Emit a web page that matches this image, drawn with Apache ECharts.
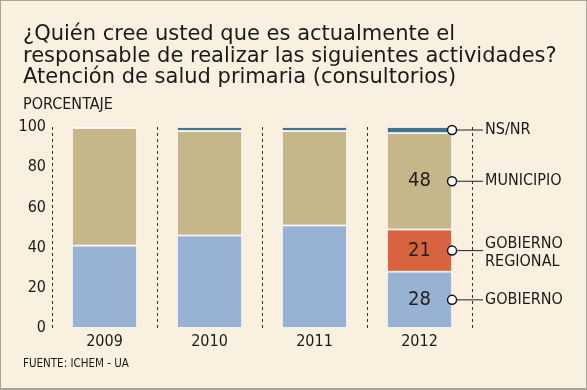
<!DOCTYPE html>
<html>
<head>
<meta charset="utf-8">
<script src="https://cdn.jsdelivr.net/npm/echarts@6/dist/echarts.min.js"></script>
<style>
html,body{margin:0;padding:0;background:#faf0df;}
#wrap{width:587px;height:390px;box-sizing:border-box;border:1px solid #aaa398;border-bottom:2px solid #aaa398;}
#chart{width:585px;height:387px;}
</style>
</head>
<body>
<div id="wrap"><div id="chart"></div></div>
<script>
const categories = ['2009', '2010', '2011', '2012'];
const gobierno = [41, 46, 51, 28];
const gobiernoRegional = [0, 0, 0, 21];
const municipio = [58.5, 52, 47, 48];
const nsnr = [0.5, 2, 2, 3];
const yTicks = [0, 20, 40, 60, 80, 100];
const seriesNames = ['GOBIERNO', 'GOBIERNO\nREGIONAL', 'MUNICIPIO', 'NS/NR'];
const labelledYear = 3;

const FONT = '"DejaVu Sans Condensed", "DejaVu Sans", sans-serif';
const TFONT = '"DejaVu Sans", sans-serif';
const chart = echarts.init(document.getElementById('chart'));
const BAR = 0.62;

function inBarLabel(arr) {
  return arr.map((v, i) => ({
    value: v,
    label: { show: i === labelledYear, position: 'inside', formatter: String(v), fontSize: 20, color: '#1f1f1f', fontFamily: FONT }
  }));
}

const allSeries = [gobierno, gobiernoRegional, municipio, nsnr];
const calloutData = [];
let acc = 0;
allSeries.forEach((arr, k) => {
  const v = arr[labelledYear];
  calloutData.push([labelledYear, acc, acc + v, k]);
  acc += v;
});

const barCommon = { type: 'bar', stack: 'total', barWidth: (BAR * 100) + '%', itemStyle: { borderColor: '#ffffff', borderWidth: 0.8 } };

chart.setOption({
  animation: false,
  backgroundColor: '#faf0df',
  title: [
    { text: '¿Quién cree usted que es actualmente el\nresponsable de realizar las siguientes actividades?\nAtención de salud primaria (consultorios)',
      left: 17, top: 18, textStyle: { fontFamily: TFONT, fontSize: 21, fontWeight: 'normal', color: '#1a1a1a', lineHeight: 21.5 } },
    { text: 'PORCENTAJE', left: 17, top: 91, textStyle: { fontFamily: FONT, fontSize: 16, fontWeight: 'normal', color: '#1a1a1a' } },
    { text: 'FUENTE: ICHEM - UA', left: 17, top: 352, textStyle: { fontFamily: FONT, fontSize: 11.5, fontWeight: 'normal', color: '#1a1a1a' } }
  ],
  grid: { left: 51, right: 114, top: 126, bottom: 60 },
  xAxis: {
    type: 'category', data: categories,
    axisLine: { show: false }, axisTick: { show: false },
    axisLabel: { fontFamily: FONT, fontSize: 16, color: '#1a1a1a', margin: 6 },
    splitLine: { show: true, lineStyle: { type: [3, 3], color: '#333', width: 1 } }
  },
  yAxis: {
    type: 'value', min: yTicks[0], max: yTicks[yTicks.length - 1], interval: yTicks[1] - yTicks[0],
    axisLine: { show: false }, axisTick: { show: false }, splitLine: { show: false },
    axisLabel: { fontFamily: FONT, fontSize: 16, color: '#1a1a1a', margin: 6 }
  },
  series: [
    Object.assign({}, barCommon, { name: 'GOBIERNO', data: inBarLabel(gobierno), itemStyle: Object.assign({}, barCommon.itemStyle, { color: '#98b2d3' }) }),
    Object.assign({}, barCommon, { name: 'GOBIERNO REGIONAL', data: inBarLabel(gobiernoRegional), itemStyle: Object.assign({}, barCommon.itemStyle, { color: '#d8643f' }) }),
    Object.assign({}, barCommon, { name: 'MUNICIPIO', data: inBarLabel(municipio), itemStyle: Object.assign({}, barCommon.itemStyle, { color: '#c6b78b' }) }),
    Object.assign({}, barCommon, { name: 'NS/NR', data: nsnr.map((v, i) => i === 0 ? { value: v, itemStyle: { color: '#9fb3d6' } } : v), itemStyle: Object.assign({}, barCommon.itemStyle, { color: '#3f7391' }) }),
    {
      type: 'custom', clip: false, z: 10,
      data: calloutData,
      renderItem: function (params, api) {
        const top = api.coord([api.value(0), api.value(2)]);
        const bot = api.coord([api.value(0), api.value(1)]);
        const band = api.size([1, 0])[0];
        const x = top[0] + band * BAR / 2;
        const y = (top[1] + bot[1]) / 2;
        const name = seriesNames[api.value(3)];
        const multi = name.indexOf('\n') >= 0;
        return {
          type: 'group',
          children: [
            { type: 'line', shape: { x1: x, y1: y, x2: x + 31, y2: y }, style: { stroke: '#222', lineWidth: 1 } },
            { type: 'circle', shape: { cx: x, cy: y, r: 4.5 }, style: { fill: '#fff', stroke: '#111', lineWidth: 1.5 } },
            { type: 'text', x: x + 33, y: y + (multi ? 2 : 0), style: { text: name, fontFamily: FONT, fontSize: 16, fill: '#1a1a1a', verticalAlign: 'middle', align: 'left', lineHeight: 18 } }
          ]
        };
      }
    }
  ]
});
</script>
</body>
</html>
